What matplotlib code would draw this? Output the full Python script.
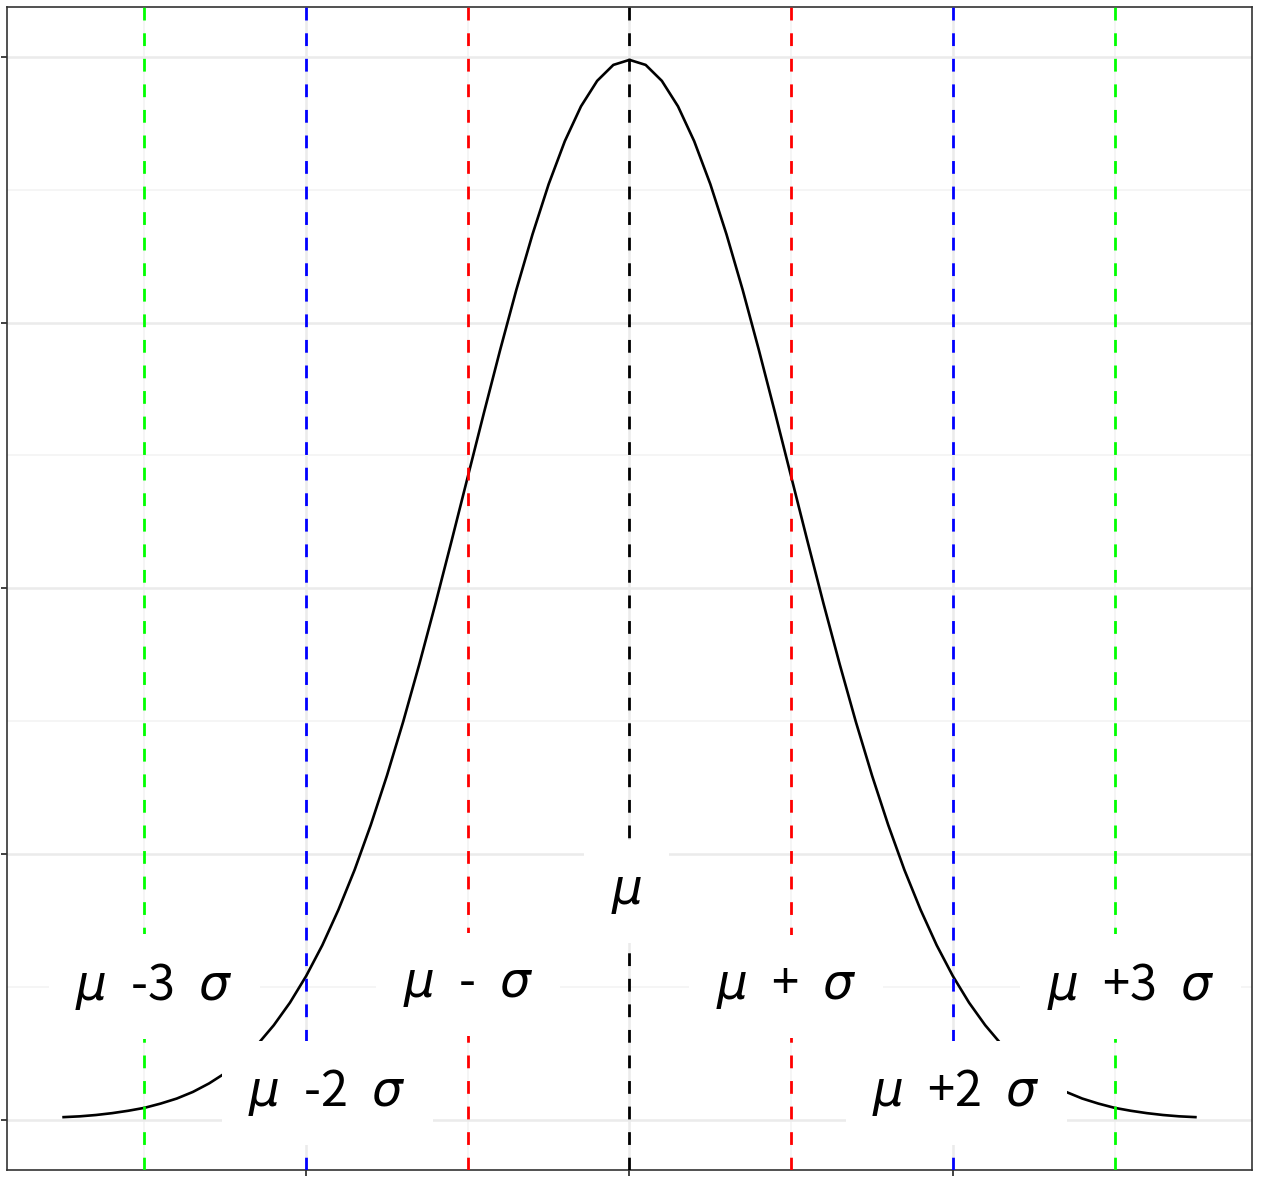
import matplotlib.pyplot as plt
import numpy as np

# normal curve (step 0.1 from -3.5 to 3.5)
x_curve = [round(-3.5 + 0.1 * i, 1) for i in range(71)]
y_half = [0.3989, 0.3970, 0.3910, 0.3814, 0.3683, 0.3521, 0.3332, 0.3123, 0.2897,
          0.2661, 0.2420, 0.2179, 0.1942, 0.1714, 0.1497, 0.1295, 0.1109, 0.0940,
          0.0790, 0.0656, 0.0540, 0.0440, 0.0355, 0.0283, 0.0224, 0.0175, 0.0136,
          0.0104, 0.0079, 0.0060, 0.0044, 0.0033, 0.0024, 0.0017, 0.0012, 0.0009]
y_curve = y_half[::-1] + y_half[1:]

# dashed reference lines
line_pos = [-3, -2, -1, 0, 1, 2, 3]
line_colors = ['#00FF00', '#0000FF', '#FF0000', '#000000', '#FF0000', '#0000FF', '#00FF00']

# labels
labels = [r'$\mu\;$ -3 $\;\sigma$', r'$\mu\;$ -2 $\;\sigma$', r'$\mu\;$ - $\;\sigma$', r'$\mu$',
          r'$\mu\;$ + $\;\sigma$', r'$\mu\;$ +2 $\;\sigma$', r'$\mu\;$ +3 $\;\sigma$']
label_x = [-2.94, -1.87, -1.0, -0.02, 0.97, 2.02, 3.1]
label_y = [0.050, 0.0100, 0.051, 0.0860, 0.050, 0.0100, 0.050]

plt.rcParams['font.family'] = ['Noto Sans CJK JP', 'DejaVu Sans']
plt.rcParams['mathtext.fontset'] = 'dejavusans'

fig = plt.figure(figsize=(12.61, 11.77), dpi=100)
ax = fig.add_axes([7 / 1261, 1 - 1170 / 1177, 1245 / 1261, 1163 / 1177])

ax.set_xlim(-3.85, 3.85)
ax.set_ylim(-0.019, 0.4188)

# grid like theme_bw
ax.set_yticks([0, 0.1, 0.2, 0.3, 0.4])
ax.set_yticks([0.05, 0.15, 0.25, 0.35], minor=True)
ax.set_xticks([-2, 0, 2])
ax.set_xticks([-3, -1, 1, 3], minor=True)
ax.grid(which='major', color='#EBEBEB', linewidth=1.8, zorder=0)
ax.grid(which='minor', color='#F2F2F2', linewidth=1.1, zorder=0)
ax.set_axisbelow(True)
ax.tick_params(which='major', length=4, width=1.3, color='#333333',
               labelleft=False, labelbottom=False)
ax.tick_params(which='minor', length=0)
for s in ax.spines.values():
    s.set_color('#333333')
    s.set_linewidth(1.2)

ax.plot(x_curve, y_curve, color='black', linewidth=1.9, zorder=2)

for p, c in zip(line_pos, line_colors):
    ax.axvline(p, color=c, linewidth=2.0, dashes=(4.6, 4.6), zorder=3)

for t, lx, ly in zip(labels, label_x, label_y):
    ax.text(lx, ly, t, fontsize=35, ha='center', va='center', zorder=5,
            bbox=dict(boxstyle='square,pad=0.55', facecolor='white', edgecolor='none'),
            clip_on=True)

plt.savefig('out.png', dpi=100)
